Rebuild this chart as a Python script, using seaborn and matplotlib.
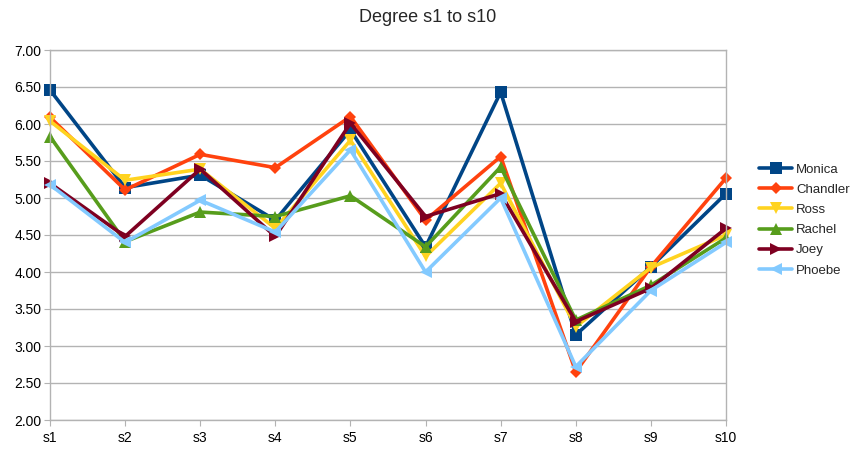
import pandas as pd
import matplotlib.pyplot as plt
import seaborn as sns
from matplotlib.ticker import FormatStrFormatter

steps = ['s1', 's2', 's3', 's4', 's5', 's6', 's7', 's8', 's9', 's10']
names = ['Monica', 'Chandler', 'Ross', 'Rachel', 'Joey', 'Phoebe']
monica = [6.46, 5.14, 5.31, 4.70, 5.92, 4.34, 6.43, 3.15, 4.07, 5.06]
chandler = [6.09, 5.11, 5.59, 5.41, 6.10, 4.70, 5.56, 2.65, 4.07, 5.27]
ross = [6.04, 5.24, 5.39, 4.59, 5.78, 4.21, 5.20, 3.26, 4.06, 4.50]
rachel = [5.83, 4.41, 4.81, 4.75, 5.03, 4.34, 5.42, 3.35, 3.82, 4.46]
joey = [5.20, 4.48, 5.39, 4.48, 6.01, 4.75, 5.06, 3.33, 3.78, 4.59]
phoebe = [5.18, 4.40, 4.97, 4.54, 5.65, 4.00, 5.00, 2.72, 3.75, 4.40]
colors = ['#004586', '#ff420e', '#ffd320', '#579d1c', '#7e0021', '#83caff']
marks = ['s', 'D', 'v', '^', '>', '<']

sns.set_style('white')
plt.rcParams['font.family'] = ['Liberation Sans', 'DejaVu Sans']

df = pd.DataFrame({'step': steps, 'Monica': monica, 'Chandler': chandler,
                   'Ross': ross, 'Rachel': rachel, 'Joey': joey, 'Phoebe': phoebe})
long_df = df.melt(id_vars='step', var_name='name', value_name='value')

fig = plt.figure(figsize=(8.55, 4.49), dpi=100)
ax = fig.add_axes([50 / 855, 1 - 420 / 449, 676 / 855, 370 / 449])

sns.lineplot(data=long_df, x='step', y='value', hue='name', style='name',
             hue_order=names, style_order=names, palette=colors,
             markers=dict(zip(names, marks)), dashes=False, sort=False,
             linewidth=2.6, markersize=8, markeredgewidth=0, ax=ax, legend=True)

# diamonds look smaller in the original, and markers are not clipped at the edges
for line in ax.lines:
    line.set_clip_on(False)
    if line.get_marker() == 'D':
        line.set_markersize(6)

ax.set_xlim(0, 9)
ax.set_ylim(2, 7)
ax.set_yticks([2 + 0.5 * i for i in range(11)])
ax.yaxis.set_major_formatter(FormatStrFormatter('%.2f'))
ax.yaxis.grid(True, color='#b3b3b3', linewidth=1)
ax.xaxis.grid(False)
ax.set_axisbelow(True)
for s in ax.spines.values():
    s.set_color('#b3b3b3')
    s.set_linewidth(1)
ax.tick_params(axis='both', length=4, color='#b3b3b3', labelsize=10, labelcolor='#000000', pad=2)
ax.tick_params(axis='y', direction='out', left=True)
ax.tick_params(axis='x', direction='out', bottom=True, pad=4)
ax.set_xlabel('')
ax.set_ylabel('')

handles, labels = ax.get_legend_handles_labels()
ax.get_legend().remove()
for h in handles:
    if h.get_marker() == 'D':
        h.set_markersize(6)
fig.legend(handles, labels, loc='center left', bbox_to_anchor=(754 / 855, 1 - 220 / 449),
           frameon=False, fontsize=9.5, handlelength=2.5, labelspacing=0.6,
           handletextpad=0.3, borderaxespad=0)

fig.suptitle('Degree s1 to s10', x=428 / 855, y=1 - 17 / 449, va='center', fontsize=13)

plt.savefig('out.png', dpi=100)
